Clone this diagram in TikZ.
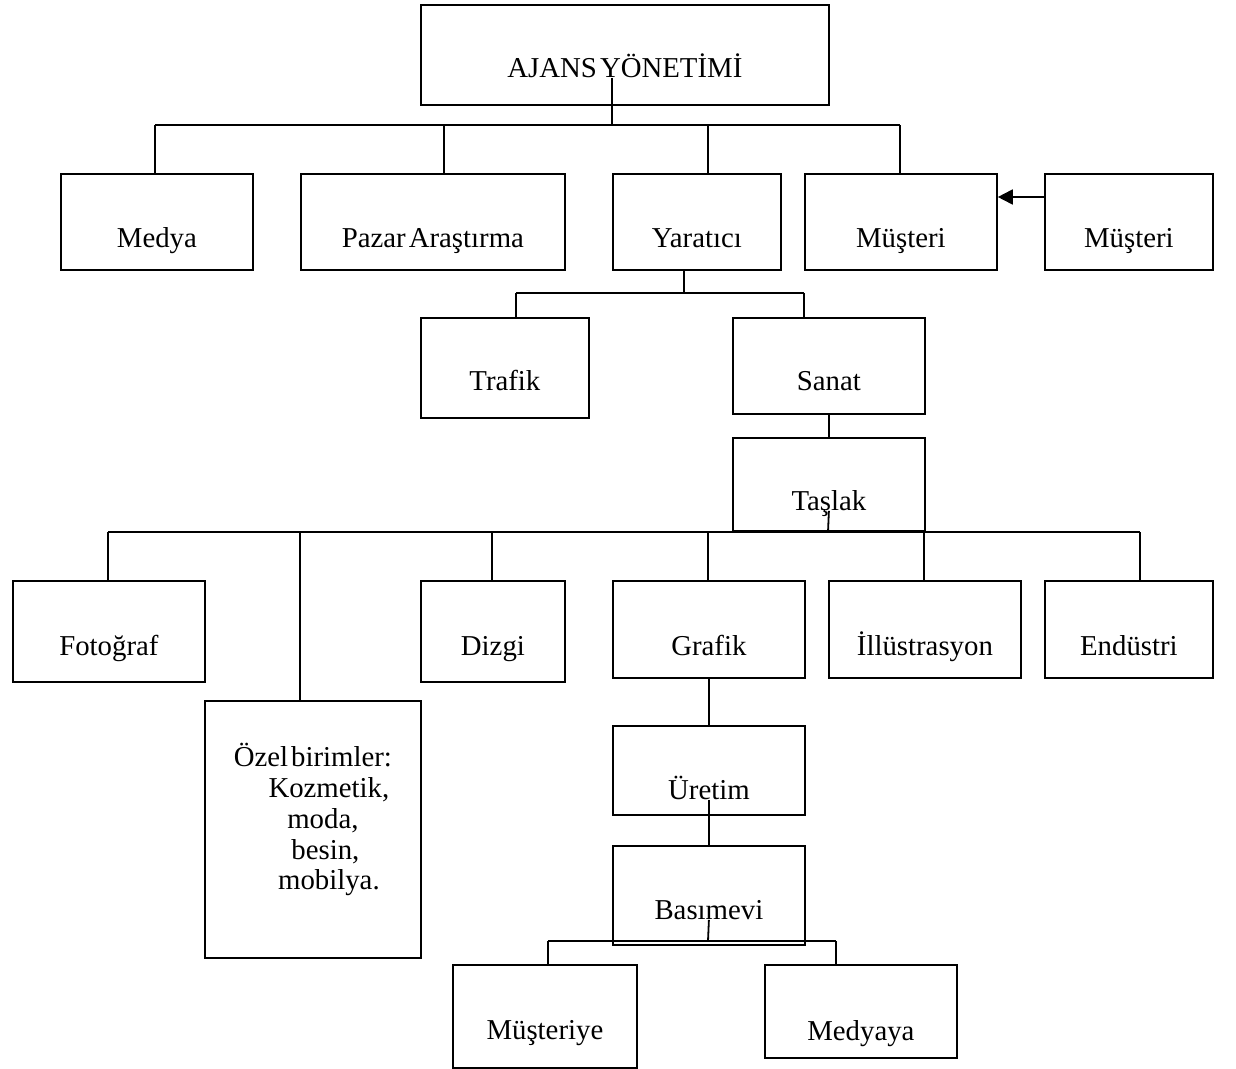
\documentclass[tikz,border=0pt]{standalone}
\usepackage{fontspec}
\setmainfont{Liberation Serif}
\usetikzlibrary{arrows.meta}
\newcommand\dgfont{\fontsize{28.8}{30.75}\selectfont}
\tikzset{
  box/.style={draw, line width=1.8pt, inner sep=0pt, anchor=north west, align=center, font=\dgfont,
    execute at begin node={\spaceskip=3pt\relax}},
  conn/.style={line width=1.8pt},
  arr/.style={line width=1.8pt, -{Triangle[length=15pt,width=15pt]}}
}
\begin{document}
\begin{tikzpicture}[x=1pt,y=-1pt]
\useasboundingbox[fill=white] (0,0) rectangle (1236,1068);

% top
\node[box, text width=408pt, text height=73pt, text depth=27pt] (ajans) at (420,4) {AJANS YÖNETİMİ};

% row 1
\node[box, text width=192pt, text height=74pt, text depth=22pt] (medya) at (60,173) {Medya};
\node[box, text width=264pt, text height=74pt, text depth=22pt] (pazar) at (300,173) {Pazar Araştırma};
\node[box, text width=168pt, text height=74pt, text depth=22pt] (yaratici) at (612,173) {Yaratıcı};
\node[box, text width=192pt, text height=74pt, text depth=22pt] (mus) at (804,173) {Müşteri};
\node[box, text width=168pt, text height=74pt, text depth=22pt] (mus2) at (1044,173) {Müşteri};

% row 2
\node[box, text width=168pt, text height=73pt, text depth=27pt] (trafik) at (420,317) {Trafik};
\node[box, text width=192pt, text height=73pt, text depth=23pt] (sanat) at (732,317) {Sanat};
\node[box, text width=192pt, text height=73pt, text depth=20pt] (taslak) at (732,437) {Taşlak};

% row 3
\node[box, text width=192pt, text height=75pt, text depth=26pt] (fotograf) at (12,580) {Fotoğraf};
\node[box, text width=144pt, text height=75pt, text depth=26pt] (dizgi) at (420,580) {Dizgi};
\node[box, text width=192pt, text height=75pt, text depth=22pt] (grafik) at (612,580) {Grafik};
\node[box, text width=192pt, text height=75pt, text depth=22pt] (illus) at (828,580) {İllüstrasyon};
\node[box, text width=168pt, text height=75pt, text depth=22pt] (endustri) at (1044,580) {Endüstri};

\node[box, text width=216pt, text height=66pt, text depth=191pt] (ozel) at (204,700)
  {Özel birimler:\\\hspace*{32pt}Kozmetik,\\\hspace*{20pt}moda,\\\hspace*{25pt}besin,\\\hspace*{32pt}mobilya.};

% lower chain
\node[box, text width=192pt, text height=74pt, text depth=15pt] (uretim) at (612,725) {Üretim};
\node[box, text width=192pt, text height=74pt, text depth=25pt] (basimevi) at (612,845) {Basımevi};
\node[box, text width=184pt, text height=75pt, text depth=28pt] (musteriye) at (452,964) {Müşteriye};
\node[box, text width=192pt, text height=76pt, text depth=17pt] (medyaya) at (764,964) {Medyaya};

% bus 1
\coordinate (a0) at (612,125);
\coordinate (a1) at (155,125);
\coordinate (a2) at (444,125);
\coordinate (a3) at (708,125);
\coordinate (a4) at (900,125);
\draw[conn] (a0 |- ajans.base) -- (a0);
\draw[conn] (a1) -- (a4);
\draw[conn] (a1) -- (a1 |- medya.north);
\draw[conn] (a2) -- (a2 |- pazar.north);
\draw[conn] (a3) -- (a3 |- yaratici.north);
\draw[conn] (a4) -- (a4 |- mus.north);

% arrow
\draw[arr] ([yshift=-24pt]mus2.north west) -- ([yshift=-24pt]mus.north east);

% bus 2
\coordinate (b0) at (684,293);
\coordinate (b1) at (516,293);
\coordinate (b2) at (804,293);
\draw[conn] (b0 |- yaratici.south) -- (b0);
\draw[conn] (b1) -- (b2);
\draw[conn] (b1) -- (b1 |- trafik.north);
\draw[conn] (b2) -- (b2 |- sanat.north);
\draw[conn] (sanat.south) -- (taslak.north);

% bus 3
\coordinate (c0) at (828,532);
\coordinate (c1) at (108,532);
\coordinate (c2) at (300,532);
\coordinate (c3) at (492,532);
\coordinate (c4) at (708,532);
\coordinate (c5) at (924,532);
\coordinate (c6) at (1140,532);
\draw[conn] (taslak.base) -- (c0);
\draw[conn] (c1) -- (c6);
\draw[conn] (c1) -- (c1 |- fotograf.north);
\draw[conn] (c2) -- (c2 |- ozel.north);
\draw[conn] (c3) -- (c3 |- dizgi.north);
\draw[conn] (c4) -- (c4 |- grafik.north);
\draw[conn] (c5) -- (c5 |- illus.north);
\draw[conn] (c6) -- (c6 |- endustri.north);

% lower chain
\draw[conn] (grafik.south) -- (uretim.north);
\draw[conn] (uretim.base) -- (basimevi.north);
\coordinate (d0) at (708,941);
\coordinate (d1) at (548,941);
\coordinate (d2) at (836,941);
\draw[conn] (basimevi.base) -- (d0);
\draw[conn] (d1) -- (d2);
\draw[conn] (d1) -- (d1 |- musteriye.north);
\draw[conn] (d2) -- (d2 |- medyaya.north);
\end{tikzpicture}
\end{document}
